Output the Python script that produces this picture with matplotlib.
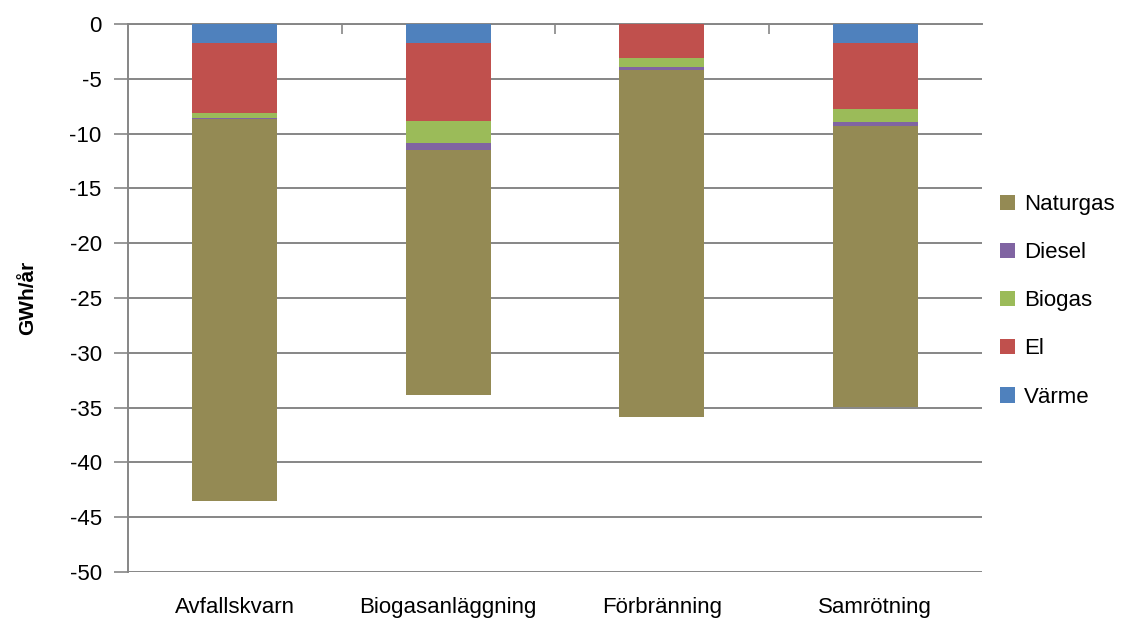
import matplotlib
matplotlib.use("Agg")
import matplotlib.pyplot as plt
import numpy as np

# Energianvändning per alternativ (GWh/år), negativa värden
categories = ["Avfallskvarn", "Biogasanläggning", "Förbränning", "Samrötning"]
varme = [-1.77, -1.74, 0.0, -1.71]
el = [-6.39, -7.12, -3.11, -6.05]
biogas = [-0.37, -2.01, -0.82, -1.19]
diesel = [-0.12, -0.64, -0.27, -0.37]
naturgas = [-34.9, -22.3, -31.7, -25.6]

series = [
    ("Värme", varme, "#4F81BD"),
    ("El", el, "#C0504D"),
    ("Biogas", biogas, "#9BBB59"),
    ("Diesel", diesel, "#8064A2"),
    ("Naturgas", naturgas, "#948A54"),
]

plt.rcParams["font.family"] = ["Liberation Sans", "DejaVu Sans"]
plt.rcParams["axes.unicode_minus"] = False
grid_col = "#868686"

fig = plt.figure(figsize=(11.21, 6.19), dpi=100)
ax = fig.add_axes([0.1142, 0.0759, 0.7618, 0.8853])

x = np.arange(len(categories))
bottom = np.zeros(len(categories))
handles = []
for name, vals, col in series:
    vals = np.array(vals)
    b = ax.bar(x, vals, width=0.4, bottom=bottom, color=col, label=name, zorder=3)
    handles.append(b)
    bottom = bottom + vals

ax.set_xlim(-0.5, len(categories) - 0.5)
ax.set_ylim(-50, 0)
ax.set_yticks(np.arange(-50, 1, 5))
ax.yaxis.grid(True, color=grid_col, linewidth=1.4, zorder=0)
ax.set_axisbelow(True)

ax.set_xticks(x)
ax.set_xticklabels(categories, fontsize=16)
ax.set_xticks(np.arange(0.5, len(categories) - 0.5, 1), minor=True)
ax.tick_params(axis="x", which="major", length=0, pad=18)
ax.tick_params(axis="x", which="minor", bottom=False, top=True,
               direction="in", length=7, width=1.2, color=grid_col)
ax.tick_params(axis="y", length=10, width=1.2, color=grid_col,
               labelsize=16, pad=9)

for side in ["bottom", "right"]:
    ax.spines[side].set_visible(False)
for side in ["left", "top"]:
    ax.spines[side].set_color(grid_col)
    ax.spines[side].set_linewidth(1.4)

ax.set_ylabel("GWh/år", fontsize=15, fontweight="bold")
ax.yaxis.set_label_coords(-0.107, 0.5)

leg = fig.legend(handles[::-1], [s[0] for s in series][::-1],
                 loc="center left", bbox_to_anchor=(0.874, 0.514),
                 frameon=False, fontsize=16, handlelength=0.7,
                 handleheight=0.7, handletextpad=0.4, labelspacing=1.22)

fig.savefig("out.png", dpi=100)
